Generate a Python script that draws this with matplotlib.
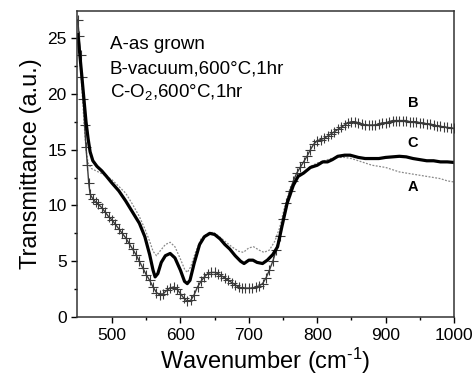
import matplotlib
matplotlib.use("Agg")
import matplotlib.pyplot as plt

plt.rcParams["font.family"] = ["Liberation Sans", "DejaVu Sans"]
plt.rcParams["mathtext.fontset"] = "custom"
plt.rcParams["mathtext.rm"] = "Liberation Sans"
plt.rcParams["mathtext.it"] = "Liberation Sans:italic"
plt.rcParams["mathtext.bf"] = "Liberation Sans:bold"

# A - as grown (dotted grey)
a_x = [450, 453, 456, 459, 462, 465, 470, 480, 490, 500, 510, 520, 530, 540, 548,
       555, 560, 565, 570, 578, 585, 592, 600, 606, 610, 615, 622, 630, 640, 648,
       655, 665, 675, 685, 692, 700, 707, 715, 722, 730, 738, 745, 752, 760, 770,
       780, 790, 800, 810, 820, 830, 840, 850, 860, 870, 880, 890, 900, 910, 920,
       930, 940, 950, 960, 970, 980, 990, 1000]
a_y = [25.0, 23.0, 20.5, 17.5, 15.0, 13.8, 13.3, 13.0, 12.7, 12.3, 11.7, 11.1, 10.1, 9.0, 7.9,
       6.8, 5.9, 5.5, 5.9, 6.5, 6.7, 6.3, 5.2, 4.3, 4.0, 4.5, 5.8, 7.0, 7.5, 7.6,
       7.3, 6.8, 6.3, 5.9, 5.8, 6.2, 6.3, 6.0, 5.8, 6.0, 6.8, 8.0, 9.8, 11.5, 12.5,
       12.9, 13.5, 13.8, 14.0, 14.2, 14.3, 14.3, 14.2, 14.0, 13.8, 13.6, 13.5, 13.4, 13.2, 13.0,
       12.9, 12.8, 12.7, 12.6, 12.5, 12.4, 12.2, 12.1]

# B - vacuum, 600 C, 1 hr (crosses)
b_x = [450, 452, 454, 456, 458, 460, 462, 464, 466, 468, 472, 476, 480, 485, 490,
       495, 500, 505, 510, 515, 520, 525, 530, 535, 540, 545, 550, 555, 560, 565,
       570, 575, 580, 585, 590, 595, 600, 605, 610, 615, 620, 625, 630, 635, 640,
       645, 650, 655, 660, 665, 670, 675, 680, 685, 690, 695, 700, 705, 710, 715,
       720, 725, 730, 735, 740, 745, 750, 755, 760, 765, 770, 775, 780, 785, 790,
       795, 800, 805, 810, 815, 820, 825, 830, 835, 840, 845, 850, 855, 860, 865,
       870, 875, 880, 885, 890, 895, 900, 905, 910, 915, 920, 925, 930, 935, 940,
       945, 950, 955, 960, 965, 970, 975, 980, 985, 990, 995, 1000]
b_y = [26.6, 25.2, 23.5, 21.5, 19.5, 17.2, 15.2, 13.6, 12.0, 11.0, 10.6, 10.3, 10.1, 9.8, 9.4,
       9.0, 8.7, 8.3, 7.9, 7.5, 7.1, 6.6, 6.1, 5.6, 5.0, 4.4, 3.8, 3.3, 2.7, 2.2,
       2.0, 2.1, 2.4, 2.6, 2.7, 2.5, 2.1, 1.7, 1.4, 1.5, 2.0, 2.7, 3.2, 3.6, 3.9,
       4.0, 4.0, 3.9, 3.7, 3.5, 3.3, 3.1, 2.9, 2.7, 2.6, 2.6, 2.6, 2.6, 2.7, 2.8,
       3.0, 3.5, 4.2, 5.0, 6.0, 7.3, 8.8, 10.2, 11.3, 12.2, 12.9, 13.4, 13.9, 14.4, 15.0,
       15.5, 15.8, 15.9, 16.0, 16.2, 16.4, 16.6, 16.8, 17.0, 17.2, 17.4, 17.5, 17.5, 17.4, 17.3,
       17.2, 17.2, 17.2, 17.2, 17.3, 17.4, 17.4, 17.5, 17.6, 17.6, 17.6, 17.6, 17.6, 17.5, 17.5,
       17.5, 17.4, 17.4, 17.3, 17.3, 17.2, 17.1, 17.1, 17.0, 17.0, 16.9, 16.9]

# C - O2, 600 C, 1 hr (thick solid)
c_x = [450, 453, 456, 459, 462, 465, 468, 472, 478, 485, 492, 500, 510, 520, 530,
       540, 548, 555, 560, 563, 567, 572, 578, 585, 592, 600, 606, 610, 614, 620,
       628, 635, 643, 650, 658, 665, 672, 680, 688, 693, 700, 706, 712, 720, 727,
       735, 742, 749, 756, 765, 772, 780, 790, 800, 808, 815, 822, 830, 840, 848,
       860, 870, 880, 890, 900, 910, 920, 930, 940, 950, 960, 970, 980, 990, 1000]
c_y = [25.3, 23.5, 21.5, 19.5, 17.5, 16.0, 14.8, 14.0, 13.5, 13.1, 12.6, 12.0, 11.3, 10.4, 9.4,
       8.4, 7.2, 5.6, 4.2, 3.6, 3.9, 4.9, 5.5, 5.7, 5.3, 4.2, 3.2, 3.0, 3.3, 4.8,
       6.5, 7.2, 7.5, 7.4, 7.0, 6.5, 6.1, 5.5, 5.0, 4.8, 5.1, 5.1, 4.9, 4.8, 5.1,
       5.6, 6.3, 8.3, 10.2, 11.8, 12.6, 12.9, 13.4, 13.6, 13.9, 13.9, 14.1, 14.4, 14.5, 14.5,
       14.3, 14.2, 14.2, 14.2, 14.3, 14.35, 14.4, 14.35, 14.2, 14.1, 14.0, 14.0, 13.9, 13.9, 13.85]

legend_lines = ["A-as grown", "B-vacuum,600\u00b0C,1hr", "C-O$_2$,600\u00b0C,1hr"]
legend_y = [24.0, 21.8, 19.7]
curve_tags = ["B", "C", "A"]
tag_y = [19.2, 15.6, 11.65]

fig = plt.figure(figsize=(4.76, 3.83), dpi=100)
ax = fig.add_axes([0.162, 0.172, 0.792, 0.799])

ax.plot(a_x, a_y, color="#8a8a8a", lw=0.9, ls=(0, (1.5, 1.2)))
ax.plot(b_x, b_y, color="#3a3a3a", lw=1.0, marker="+", ms=6.5, mew=0.8)
ax.plot(c_x, c_y, color="black", lw=2.3)

ax.set_xlim(449, 1000)
ax.set_ylim(0, 27.4)
ax.set_xticks([500, 600, 700, 800, 900, 1000])
ax.set_xticks(range(550, 1000, 100), minor=True)
ax.set_yticks([0, 5, 10, 15, 20, 25])
ax.set_yticks([2.5, 7.5, 12.5, 17.5, 22.5], minor=True)
ax.tick_params(which="major", direction="out", length=4, width=1, labelsize=12.5)
ax.tick_params(which="minor", direction="out", length=2.5, width=1)
for s in ax.spines.values():
    s.set_linewidth(1.1)
    s.set_color("#333333")

ax.set_xlabel("Wavenumber (cm$^{\\text{-}1}$)", fontsize=17, labelpad=2)
ax.set_ylabel("Transmittance (a.u.)", fontsize=17, labelpad=4)

for txt, yy in zip(legend_lines, legend_y):
    ax.text(497, yy, txt, fontsize=13.5, ha="left", va="baseline")
for tag, yy in zip(curve_tags, tag_y):
    ax.text(940, yy, tag, fontsize=10.5, fontweight="bold", ha="center", va="center")

fig.savefig("out.png", dpi=100)
